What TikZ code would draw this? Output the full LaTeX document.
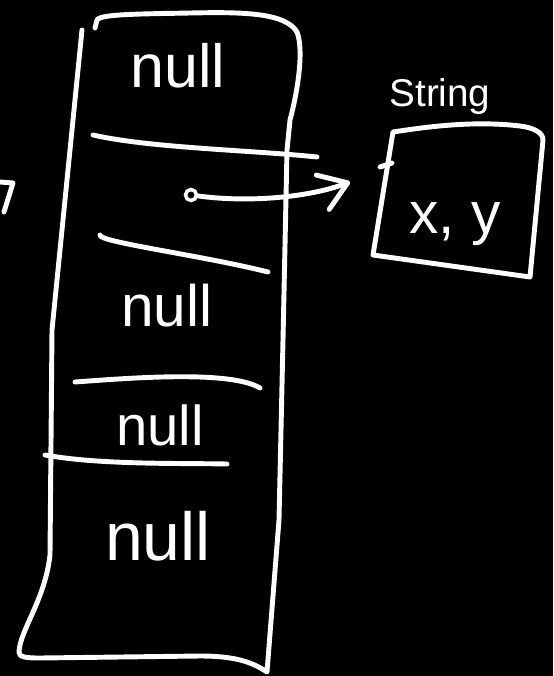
\documentclass[tikz,border=0pt]{standalone}
\usepackage{fontspec}
\setmainfont{Liberation Sans}
\usetikzlibrary{arrows.meta}

\begin{document}
\begin{tikzpicture}[
  x=0.03cm, y=-0.03cm,
  ink/.style={draw=white, line width=4.2pt, line cap=round, line join=round},
  word/.style={text=white, inner sep=0pt, font=\fontsize{#1}{#1}\selectfont},
  dotmark/.style={draw=white, line width=3pt, circle, inner sep=0pt, minimum size=0.33cm},
  arr/.style={ink, -{Straight Barb[round, length=0.8cm, width=1.1cm]}}
]

\fill[black] (0,0) rectangle (553,676);
\useasboundingbox (0,0) rectangle (553,676);

% the array
\draw[ink] (82,30) -- (52,330) -- (50,555) .. controls (45,600) and (20,630) .. (19,652)
  .. controls (19,657) and (25,658) .. (40,658) -- (200,656) .. controls (235,656) and (252,662) .. (267,672)
  -- (279,520) -- (283,340) -- (287,150) -- (290,120) .. controls (298,90) and (304,50) .. (297,32)
  .. controls (285,12) and (240,12) .. (190,13) .. controls (140,14) and (100,14) .. (97,20) -- (95,28);
\draw[ink] (93,135) .. controls (150,148) and (250,150) .. (317,157);
\draw[ink] (100,235) .. controls (98,242) and (200,255) .. (268,272);
\draw[ink] (75,382) .. controls (130,378) and (230,370) .. (260,388);
\draw[ink] (45,455) .. controls (100,465) and (180,463) .. (227,464);

\node[word=52pt] (null0) at (178,66) {null};
\node[word=50pt] (null2) at (167,306) {null};
\node[word=48pt] (null3) at (160,425) {null};
\node[word=58pt] (null4) at (158,536) {null};

% the object
\draw[ink] (393,132) .. controls (420,128) and (470,120) .. (520,126) .. controls (535,128) and (543,133) .. (543,140)
  -- (530,277) -- (373,255) -- cycle;
\draw[ink] (380,167) -- (392,163);
\node[word=33pt] (label) at (440,97) {String};
\node[word=50pt] (xy) at (455,224) {x, y};

\node[dotmark] (dot) at (191,195) {};
\coordinate (tip) at (350,182);
\draw[arr] (dot) .. controls (250,203) and (310,197) .. (tip);

\draw[ink] (0,182) -- (13,183) -- (4,212);

\end{tikzpicture}
\end{document}
